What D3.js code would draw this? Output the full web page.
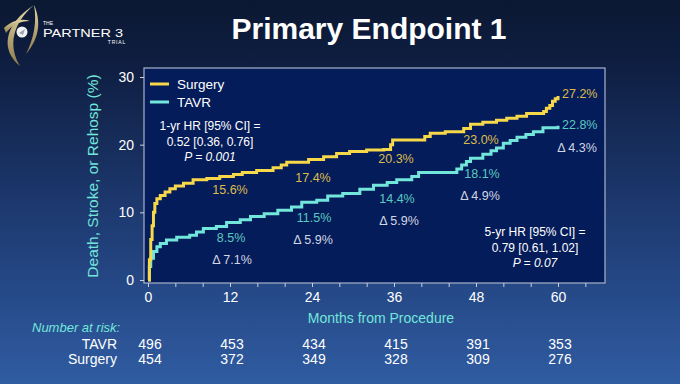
<!DOCTYPE html>
<html>
<head>
<meta charset="utf-8">
<script src="https://cdn.jsdelivr.net/npm/d3@7"></script>
<style>
body { margin: 0; background: #0c1934; }
svg { display: block; font-family: "Liberation Sans", Arial, sans-serif; }
</style>
</head>
<body>
<svg id="chart" width="680" height="384"></svg>
<script>
// Kaplan-Meier steps: [month, percent]
var surgeryKM = [[0,0],[0.2,3],[0.4,6],[0.6,8],[0.8,10],[1,11.3],[1.3,12],[1.8,12.5],[2.5,13],[3.2,13.5],[4,13.9],
	[5.2,14.3],[6.6,14.8],[8.6,15.0],[10.5,15.3],[12.5,15.6],[13.8,15.9],[15.9,16.2],[18.3,16.6],[19.5,17.0],[20.3,17.4],
	[23.5,17.8],[25.7,18.2],[27.6,18.7],[29.5,19.0],[32,19.2],[34.5,19.3],[35.5,20.0],[35.8,20.7],[40.5,21.2],[41.3,21.7],
	[43.5,21.9],[46.2,22.4],[47.2,23.0],[49,23.3],[51,23.6],[52.5,23.9],[54,24.2],[55.4,24.6],[57.9,24.9],[58.3,25.4],
	[58.8,25.8],[59.2,26.4],[59.6,26.8],[60,27.2]];
var tavrKM = [[0,0],[0.2,2.0],[0.4,3.2],[0.8,4.2],[1.3,4.9],[1.8,5.4],[2.7,5.9],[4.2,6.3],[6.1,6.6],[7.1,7.1],[8.1,7.6],
	[10,7.9],[11.5,8.5],[13.5,8.9],[15,9.4],[17,9.8],[19,10.3],[21,10.8],[22.5,11.5],[24.7,11.8],[26.3,12.4],[28.5,12.8],
	[31,13.4],[33,14.0],[35,14.4],[36.4,14.8],[38.6,15.3],[39.6,15.9],[45.2,16.4],[45.9,17.0],[46.6,17.5],[47.2,18.0],
	[49,18.6],[50.2,19.1],[51,19.5],[52,20.2],[53,20.6],[54,21.1],[55.3,21.5],[56.4,21.9],[57.8,22.5],[60,22.8]];

var labelMonths = [12, 24, 36, 48, 60];
var surgeryPct = [15.6, 17.4, 20.3, 23.0, 27.2];
var tavrPct = [8.5, 11.5, 14.4, 18.1, 22.8];
var deltaPct = [7.1, 5.9, 5.9, 4.9, 4.3];

var riskMonths = [0, 12, 24, 36, 48, 60];
var tavrAtRisk = [496, 453, 434, 415, 391, 353];
var surgeryAtRisk = [454, 372, 349, 328, 309, 276];

var yTicks = [0, 10, 20, 30];
var xTicks = d3.range(0, 65, 4);

var YELLOW = "#f6d84a", CYAN = "#72e6da";
// small horizontal nudges so labels sit where the slide has them
var nudgePct = [0, 1, 2, 5, 4];
var nudgeDelta = [2, 1, 5, 4, 19];
var svg = d3.select("#chart");

// background
var defs = svg.append("defs");
var bg = defs.append("linearGradient").attr("id", "bg").attr("x1", 0).attr("y1", 0).attr("x2", 0).attr("y2", 1);
bg.append("stop").attr("offset", "0").attr("stop-color", "#0b1832");
bg.append("stop").attr("offset", "0.18").attr("stop-color", "#0f1f43");
bg.append("stop").attr("offset", "0.6").attr("stop-color", "#1f3d76");
bg.append("stop").attr("offset", "1").attr("stop-color", "#305ca2");
svg.append("rect").attr("width", 680).attr("height", 384).attr("fill", "url(#bg)");

var gold = defs.append("linearGradient").attr("id", "gold").attr("x1", 0).attr("y1", 0).attr("x2", 0).attr("y2", 1);
gold.append("stop").attr("offset", "0").attr("stop-color", "#e4d6a6");
gold.append("stop").attr("offset", "1").attr("stop-color", "#8c7a4a");

// logo
var logo = svg.append("g");
logo.append("path").attr("fill", "url(#gold)")
	.attr("d", "M20 66 C0 50 4 24 34 5 C12 24 8 46 20 66 Z");
logo.append("path").attr("fill", "url(#gold)")
	.attr("d", "M34 5 C41 20 40 38 26 54 C34 38 37 22 34 5 Z");
logo.append("path").attr("fill", "url(#gold)")
	.attr("d", "M4 28 C12 20 22 18 30 21 C20 21 12 25 6 33 Z");
logo.append("circle").attr("cx", 22).attr("cy", 32).attr("r", 5.5).attr("fill", "#f2f2f2");
logo.append("path").attr("d", "M19 33 L25 29 L23 35 Z").attr("fill", "#9aa6b8");
logo.append("text").attr("x", 43).attr("y", 25).attr("font-size", 5).attr("fill", "#fff").text("THE");
logo.append("text").attr("x", 43).attr("y", 37).attr("font-size", 11.5)
	.attr("textLength", 80).attr("lengthAdjust", "spacingAndGlyphs").attr("fill", "#fff").text("PARTNER 3");
logo.append("text").attr("x", 126).attr("y", 43.5).attr("font-size", 5).attr("text-anchor", "end")
	.attr("letter-spacing", 0.8).attr("fill", "#fff").text("TRIAL");

svg.append("text").attr("x", 369).attr("y", 39).attr("text-anchor", "middle")
	.attr("font-size", 30).attr("font-weight", "bold").attr("fill", "#fff").text("Primary Endpoint 1");

// scales
var x = d3.scaleLinear().domain([0, 60]).range([148, 558]);
var y = d3.scaleLinear().domain([0, 30]).range([280, 77]);
var panel = {left: 144, top: 68, right: 605, bottom: 283};

svg.append("rect").attr("x", panel.left).attr("y", panel.top)
	.attr("width", panel.right - panel.left).attr("height", panel.bottom - panel.top)
	.attr("fill", "#041c5a").attr("stroke", "#a9b2c8").attr("stroke-width", 1.2);

var yAxis = svg.append("g").attr("transform", "translate(" + panel.left + ",0)")
	.call(d3.axisLeft(y).tickValues(yTicks).tickSize(4).tickPadding(6));
var xAxis = svg.append("g").attr("transform", "translate(0," + panel.bottom + ")")
	.call(d3.axisBottom(x).tickValues(xTicks).tickSize(4).tickPadding(5)
		.tickFormat(function(d) { return d % 12 == 0 ? d : ""; }));
[yAxis, xAxis].forEach(function(a) {
	a.select(".domain").remove();
	a.selectAll("line").attr("stroke", "#c8cede");
	a.selectAll("text").attr("fill", "#fff").attr("font-size", 14)
		.attr("font-family", "Liberation Sans, Arial, sans-serif");
});

svg.append("text").attr("transform", "translate(98,176) rotate(-90)").attr("text-anchor", "middle")
	.attr("font-size", 15.5).attr("fill", CYAN).text("Death, Stroke, or Rehosp (%)");
svg.append("text").attr("x", 381).attr("y", 323).attr("text-anchor", "middle")
	.attr("font-size", 14).attr("fill", CYAN).text("Months from Procedure");

// curves
var line = d3.line().x(function(d) { return x(d[0]); }).y(function(d) { return y(d[1]); })
	.curve(d3.curveStepAfter);
svg.append("path").datum(tavrKM).attr("d", line).attr("fill", "none")
	.attr("stroke", CYAN).attr("stroke-width", 3);
svg.append("path").datum(surgeryKM).attr("d", line).attr("fill", "none")
	.attr("stroke", YELLOW).attr("stroke-width", 3);

// legend
var legend = [["Surgery", YELLOW], ["TAVR", CYAN]];
legend.forEach(function(l, i) {
	svg.append("line").attr("x1", 150).attr("x2", 169).attr("y1", 84 + i * 18).attr("y2", 84 + i * 18)
		.attr("stroke", l[1]).attr("stroke-width", 3);
	svg.append("text").attr("x", 177).attr("y", 89 + i * 18).attr("font-size", 13.5)
		.attr("fill", "#fff").text(l[0]);
});

// hazard ratio notes
function note(cx, cy, lines) {
	lines.forEach(function(t, i) {
		svg.append("text").attr("x", cx).attr("y", cy + i * 15.5).attr("text-anchor", "middle")
			.attr("font-size", 12).attr("fill", "#fff")
			.attr("font-style", i == 2 ? "italic" : "normal").text(t);
	});
}
note(210, 130, ["1-yr HR [95% CI] =", "0.52 [0.36, 0.76]", "P = 0.001"]);
note(535, 236, ["5-yr HR [95% CI] =", "0.79 [0.61, 1.02]", "P = 0.07"]);

// percent labels
labelMonths.forEach(function(m, i) {
	var last = i == labelMonths.length - 1;
	var lx = last ? x(m) + 4 : x(m) + nudgePct[i];
	var anchor = last ? "start" : "middle";
	svg.append("text").attr("x", lx).attr("y", last ? y(surgeryPct[i]) + 2 : y(surgeryPct[i]) + 20)
		.attr("text-anchor", anchor).attr("font-size", 12.5).attr("fill", "#dcbd4c")
		.text(surgeryPct[i].toFixed(1) + "%");
	svg.append("text").attr("x", last ? lx : lx + 1).attr("y", last ? y(tavrPct[i]) + 3 : y(tavrPct[i]) + 20)
		.attr("text-anchor", anchor).attr("font-size", 12.5).attr("fill", "#5cc9c0")
		.text(tavrPct[i].toFixed(1) + "%");
	svg.append("text").attr("x", x(m) + nudgeDelta[i])
		.attr("y", last ? y(tavrPct[i]) + 26 : y(tavrPct[i]) + 42)
		.attr("text-anchor", "middle").attr("font-size", 12.5).attr("fill", "#d2d6e2")
		.text("\u0394 " + deltaPct[i].toFixed(1) + "%");
});

// number at risk
svg.append("text").attr("x", 32).attr("y", 332).attr("font-size", 13).attr("font-style", "italic")
	.attr("fill", CYAN).text("Number at risk:");
[["TAVR", tavrAtRisk, 349], ["Surgery", surgeryAtRisk, 364]].forEach(function(r) {
	svg.append("text").attr("x", 117).attr("y", r[2]).attr("text-anchor", "end")
		.attr("font-size", 14).attr("fill", "#fff").text(r[0]);
	riskMonths.forEach(function(m, i) {
		svg.append("text").attr("x", x(m) + 2).attr("y", r[2]).attr("text-anchor", "middle")
			.attr("font-size", 14).attr("fill", "#fff").text(r[1][i]);
	});
});
</script>
</body>
</html>
